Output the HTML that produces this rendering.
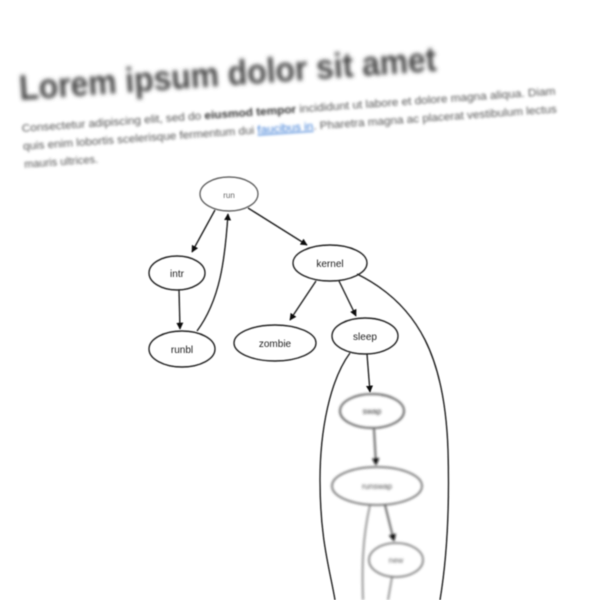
<!DOCTYPE html>
<html><head><style>
html,body{margin:0;padding:0;background:#fff;width:600px;height:600px;overflow:hidden}
svg{display:block}
text{font-family:"Liberation Sans",sans-serif}
</style></head><body>
<svg width="600" height="600" viewBox="0 0 600 600">
<defs>
<filter id="b3"><feGaussianBlur stdDeviation="2.2"/></filter>
<filter id="b2"><feGaussianBlur stdDeviation="1.2"/></filter>
<filter id="b1"><feGaussianBlur stdDeviation="0.6"/></filter>
<filter id="b4"><feGaussianBlur stdDeviation="1.2"/></filter>
<marker id="a" viewBox="0 0 10 10" refX="9" refY="5" markerWidth="5" markerHeight="5" orient="auto"><path d="M0,0L10,5L0,10z" fill="#111"/></marker>
</defs>
<g filter="url(#b3)" transform="rotate(-4 20 100)">
<text x="20" y="100" font-size="35" font-weight="bold" fill="#444" textLength="418" lengthAdjust="spacingAndGlyphs">Lorem ipsum dolor sit amet</text>
</g>
<g filter="url(#b2)" transform="rotate(-4 22 132)" font-size="11" fill="#555">
<text x="22" y="132" textLength="535" lengthAdjust="spacingAndGlyphs">Consectetur adipiscing elit, sed do <tspan font-weight="bold" fill="#333">eiusmod tempor</tspan> incididunt ut labore et dolore magna aliqua. Diam</text>
<text x="22" y="150" textLength="535" lengthAdjust="spacingAndGlyphs">quis enim lobortis scelerisque fermentum dui <tspan fill="#3a7bd5" text-decoration="underline">faucibus in</tspan>. Pharetra magna ac placerat vestibulum lectus</text>
<text x="22" y="168">mauris ultrices.</text>
</g>
<g filter="url(#b1)" stroke="#222" stroke-width="1.4" fill="none">
<ellipse cx="229" cy="194" rx="29" ry="17" stroke="#666"/>
<ellipse cx="177" cy="273" rx="28" ry="17"/>
<ellipse cx="182" cy="349" rx="33" ry="18"/>
<ellipse cx="330" cy="263" rx="37" ry="18"/>
<ellipse cx="275" cy="343" rx="41" ry="18"/>
<ellipse cx="365" cy="336" rx="33" ry="18"/>
<path d="M215,210 L192,252" marker-end="url(#a)"/>
<path d="M248,208 L307,245" marker-end="url(#a)"/>
<path d="M179,290 L180,329" marker-end="url(#a)"/>
<path d="M197,331 C220,300 225,260 228,214" marker-end="url(#a)"/>
<path d="M316,281 L290,320" marker-end="url(#a)"/>
<path d="M339,281 L356,316" marker-end="url(#a)"/>
<path d="M367,354 L370,392" marker-end="url(#a)"/>
<path d="M357,274 C420,305 445,360 448,450 C450,520 445,570 440,600"/>
<path d="M350,353 C330,380 320,430 320,480 C320,540 330,570 335,600"/>
</g>
<g fill="#222" font-size="10" text-anchor="middle" filter="url(#b1)">
<text x="229" y="198" fill="#666" font-size="8">run</text>
<text x="177" y="277">intr</text>
<text x="182" y="353">runbl</text>
<text x="330" y="267">kernel</text>
<text x="275" y="347">zombie</text>
<text x="365" y="340">sleep</text>
</g>
<g filter="url(#b4)" stroke="#333" stroke-width="1.5" fill="none">
<ellipse cx="372" cy="411" rx="32" ry="17"/>
<ellipse cx="377" cy="486" rx="45" ry="19" stroke="#555"/>
<ellipse cx="396" cy="560" rx="27" ry="17" stroke="#666"/>
<path d="M374,429 L376,465" marker-end="url(#a)"/>
<path d="M385,505 L394,541" marker-end="url(#a)"/>
<path d="M370,505 C362,540 362,570 363,600" stroke="#777"/>
<path d="M392,577 L388,600" stroke="#777"/>
</g>
<g fill="#333" font-size="8" text-anchor="middle" filter="url(#b4)">
<text x="372" y="414">swap</text>
<text x="377" y="489" fill="#555">runswap</text>
<text x="396" y="563" fill="#666">new</text>
</g>
</svg>
</body></html>
